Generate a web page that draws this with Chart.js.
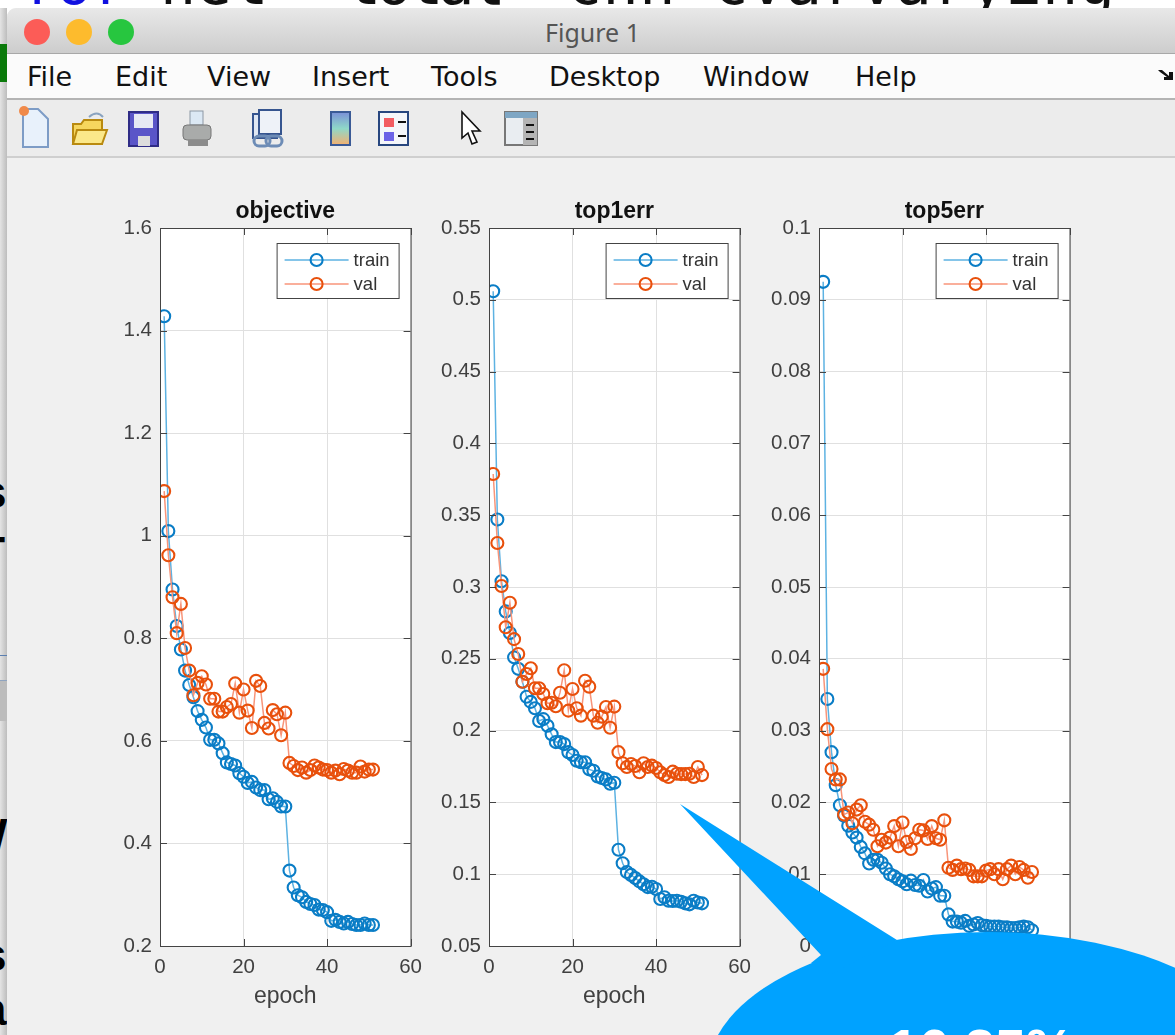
<!DOCTYPE html>
<html>
<head>
<meta charset="utf-8">
<title>Figure 1</title>
<script src="https://cdn.jsdelivr.net/npm/chart.js@4"></script>
<style>
    html, body { margin: 0; padding: 0; background: #fff; }
    #page { position: relative; width: 1175px; height: 1035px; overflow: hidden; background: #fff; }
    .abs { position: absolute; white-space: nowrap; }
    .code { font-family: "DejaVu Sans Mono", monospace; font-size: 60px; line-height: 60px; top: -47px; color: #111; }
    .frag { font-family: "Liberation Sans", sans-serif; font-weight: bold; font-size: 46px; line-height: 46px; color: #000; }
    #strip { left: 0; top: 8px; width: 7px; height: 1027px; background: linear-gradient(90deg, #e4e4e4, #bdbdbd); }
    #win { left: 7px; top: 8px; width: 1168px; height: 1027px; border-top-left-radius: 9px; overflow: hidden; background: #f0f0f0; }
    #titlebar { left: 0; top: 0; width: 1168px; height: 45px; background: linear-gradient(#e8e8e8, #cdcdcd); border-bottom: 1px solid #a8a8a8; }
    #wintitle { left: 538px; top: 9px; font-family: "Noto Sans", sans-serif; font-size: 25px; line-height: 30px; color: #555; }
    .light { width: 26px; height: 26px; top: 11px; border-radius: 50%; }
    #menubar { left: 0; top: 46px; width: 1168px; height: 44px; background: #fbfbfb; border-bottom: 2px solid #b4b4b4; }
    .menu { top: 6px; font-family: "DejaVu Sans", sans-serif; font-size: 27px; line-height: 34px; color: #111; }
    #toolbar { left: 0; top: 92px; width: 1168px; height: 56px; background: #ececec; border-bottom: 2px solid #cfcfcf; }
    canvas { position: absolute; }
    #bubble { position: absolute; left: 0; top: 0; }
    #callout { left: 888px; top: 1016px; font-family: "Liberation Sans", sans-serif; font-weight: bold; font-size: 55px; line-height: 66px; color: #fff; }
</style>
</head>
<body>
<div id="page">
    <span class="abs code" style="left:20px;color:#1010e0">for</span>
    <span class="abs code" style="left:160px">net</span>
    <span class="abs code" style="left:345px;letter-spacing:-5px">total</span>
    <span class="abs code" style="left:500px">=</span>
    <span class="abs code" style="left:566px;letter-spacing:0.5px">cnn_cvarvarying</span>

    <div class="abs" id="strip"></div>
    <div class="abs" style="left:0;top:44px;width:7px;height:38px;background:#0a7a0a"></div>
    <div class="abs" style="left:0;top:655px;width:7px;height:1px;background:#5b7fb0"></div>
    <div class="abs" style="left:0;top:680px;width:7px;height:40px;background:#bcbcbc;border-top:1px solid #8fa4c0"></div>
    <span class="abs frag" style="left:-19px;top:469px">s</span>
    <span class="abs frag" style="left:-23px;top:530px">T</span>
    <span class="abs frag" style="left:-36px;top:812px">W</span>
    <span class="abs frag" style="left:-19px;top:932px">s</span>
    <span class="abs frag" style="left:-19px;top:986px">a</span>

    <div class="abs" id="win">
        <div class="abs" id="titlebar">
            <div class="abs light" style="left:17px;background:#fc5c57"></div>
            <div class="abs light" style="left:59px;background:#fdbb2d"></div>
            <div class="abs light" style="left:101px;background:#27c63f"></div>
            <span class="abs" id="wintitle">Figure 1</span>
        </div>
        <div class="abs" id="menubar">
            <span class="abs menu" style="left:20px">File</span>
            <span class="abs menu" style="left:108px">Edit</span>
            <span class="abs menu" style="left:200px">View</span>
            <span class="abs menu" style="left:305px">Insert</span>
            <span class="abs menu" style="left:424px">Tools</span>
            <span class="abs menu" style="left:542px">Desktop</span>
            <span class="abs menu" style="left:696px">Window</span>
            <span class="abs menu" style="left:848px">Help</span>
            <svg class="abs" style="left:1150px;top:14px" width="18" height="14">
                <path d="M1 2 L5 2 L12 8 L12 4 L16 4 L16 12 L7 12 L7 9 L10 9 L3 4 Z" fill="#111"/>
            </svg>
        </div>
        <div class="abs" id="toolbar">
            <svg class="abs" style="left:0;top:0" width="560" height="56">
                <!-- new -->
                <path d="M16 9 H31 L41 19 V47 H16 Z" fill="#e8f1fb" stroke="#7d9cc6" stroke-width="2"/>
                <circle cx="17" cy="11" r="5" fill="#f08a4a"/>
                <!-- open -->
                <path d="M66 24 H74 L77 20 H95 V44 H66 Z" fill="#f6d65e" stroke="#b98a10" stroke-width="2"/>
                <path d="M66 44 L70 30 H100 L95 44 Z" fill="#fbe88a" stroke="#b98a10" stroke-width="2"/>
                <path d="M82 17 Q90 10 96 17" fill="none" stroke="#8aa3bf" stroke-width="2"/>
                <!-- save -->
                <rect x="122" y="12" width="29" height="34" fill="#5a55c8" stroke="#2f2c86" stroke-width="2"/>
                <rect x="127" y="14" width="19" height="14" fill="#e6e8f4"/>
                <rect x="131" y="36" width="12" height="10" fill="#ddd"/>
                <!-- print -->
                <rect x="183" y="11" width="13" height="14" fill="#dbe8f4" stroke="#8c97a4"/>
                <rect x="176" y="25" width="28" height="15" rx="4" fill="#a9abaa" stroke="#777"/>
                <rect x="181" y="40" width="20" height="6" fill="#8c8c8c"/>
                <!-- link -->
                <rect x="246" y="14" width="24" height="24" fill="#dfe7f3" stroke="#36558f" stroke-width="2"/>
                <rect x="252" y="10" width="22" height="24" fill="#eef2f8" stroke="#36558f" stroke-width="2"/>
                <rect x="247" y="36" width="16" height="10" rx="5" fill="none" stroke="#6d8cb6" stroke-width="3"/>
                <rect x="259" y="36" width="16" height="10" rx="5" fill="none" stroke="#6d8cb6" stroke-width="3"/>
                <!-- colorbar -->
                <defs>
                    <linearGradient id="cb" x1="0" y1="0" x2="0" y2="1">
                        <stop offset="0" stop-color="#7a8fd8"/><stop offset="0.5" stop-color="#8fd8c8"/><stop offset="1" stop-color="#f4b070"/>
                    </linearGradient>
                </defs>
                <rect x="324" y="12" width="19" height="33" fill="url(#cb)" stroke="#3a5a96" stroke-width="2"/>
                <!-- legend -->
                <rect x="372" y="12" width="29" height="33" fill="#f4f6fa" stroke="#27467f" stroke-width="2"/>
                <rect x="377" y="18" width="10" height="9" fill="#f25c62"/>
                <rect x="377" y="32" width="10" height="9" fill="#6c63e6"/>
                <rect x="391" y="21" width="8" height="2" fill="#111"/>
                <rect x="391" y="35" width="8" height="2" fill="#111"/>
                <!-- arrow -->
                <path d="M455 12 L455 38 L461 33 L465 44 L470 42 L465 31 L473 31 Z" fill="#fff" stroke="#111" stroke-width="1.6"/>
                <!-- panel -->
                <rect x="498" y="12" width="32" height="33" fill="#e9edf1" stroke="#777" stroke-width="2"/>
                <rect x="498" y="12" width="32" height="6" fill="#7ea6c4"/>
                <rect x="516" y="18" width="14" height="27" fill="#b4b4b4"/>
                <rect x="519" y="24" width="8" height="2" fill="#111"/>
                <rect x="519" y="31" width="8" height="2" fill="#111"/>
                <rect x="519" y="38" width="8" height="2" fill="#111"/>
            </svg>
        </div>
    </div>

    <canvas id="chart1" width="331" height="816" style="left:100px;top:200px"></canvas>
    <canvas id="chart2" width="331" height="816" style="left:429px;top:200px"></canvas>
    <canvas id="chart3" width="331" height="816" style="left:759px;top:200px"></canvas>

    <svg id="bubble" width="1175" height="1035">
        <ellipse cx="988" cy="1072" rx="280" ry="140" fill="#00a2ff"/>
        <polygon points="680,804 821,955 811,963 830,975 897,940" fill="#00a2ff"/>
    </svg>
    <span class="abs" id="callout">16.25%</span>
</div>

<script>
    // epochs 1..51
    const epochs = [1,2,3,4,5,6,7,8,9,10,11,12,13,14,15,16,17,18,19,20,21,22,23,24,25,26,27,28,29,30,31,32,33,34,35,36,37,38,39,40,41,42,43,44,45,46,47,48,49,50,51];

    const objectiveTrain = [1.428,1.009,0.895,0.824,0.778,0.737,0.709,0.685,0.658,0.641,0.626,0.602,0.602,0.595,0.576,0.558,0.555,0.552,0.537,0.530,0.518,0.520,0.509,0.504,0.504,0.486,0.488,0.481,0.472,0.472,0.347,0.314,0.299,0.295,0.286,0.282,0.280,0.271,0.270,0.266,0.249,0.251,0.247,0.244,0.247,0.243,0.241,0.241,0.244,0.241,0.241];
    const objectiveVal = [1.087,0.962,0.880,0.810,0.867,0.781,0.737,0.689,0.713,0.726,0.710,0.682,0.682,0.657,0.657,0.666,0.672,0.712,0.655,0.700,0.659,0.625,0.717,0.707,0.635,0.624,0.660,0.652,0.611,0.655,0.557,0.551,0.543,0.548,0.538,0.543,0.552,0.548,0.544,0.543,0.538,0.542,0.535,0.545,0.542,0.538,0.538,0.550,0.540,0.544,0.544];

    const top1Train = [0.506,0.347,0.304,0.283,0.268,0.251,0.243,0.234,0.2236,0.220,0.2156,0.2067,0.208,0.2034,0.1974,0.192,0.192,0.1906,0.185,0.183,0.179,0.178,0.178,0.173,0.172,0.168,0.167,0.166,0.163,0.1637,0.117,0.1076,0.1015,0.0995,0.0973,0.095,0.093,0.091,0.0913,0.0897,0.0827,0.084,0.0815,0.0813,0.0815,0.0808,0.0797,0.079,0.0815,0.0803,0.0797];
    const top1Val = [0.3787,0.3306,0.3007,0.272,0.289,0.2637,0.2533,0.234,0.2394,0.2434,0.2295,0.2295,0.2255,0.219,0.2194,0.217,0.2264,0.242,0.2139,0.229,0.2156,0.2104,0.2347,0.2306,0.2104,0.2055,0.2097,0.2164,0.202,0.2167,0.185,0.1773,0.1746,0.1767,0.1753,0.171,0.1773,0.1746,0.1756,0.174,0.171,0.169,0.1677,0.1714,0.170,0.1697,0.1697,0.170,0.1677,0.1747,0.169];

    const top5Train = [0.0925,0.0344,0.027,0.0224,0.0196,0.01815,0.01676,0.0158,0.0151,0.0138,0.0129,0.0115,0.012,0.012,0.0116,0.0108,0.010,0.0097,0.0093,0.009,0.0086,0.0091,0.0085,0.0084,0.0092,0.0076,0.008,0.0082,0.007,0.007,0.0044,0.0034,0.0034,0.00325,0.0035,0.0028,0.003,0.0032,0.0029,0.0028,0.0027,0.0027,0.0027,0.0026,0.0026,0.0025,0.0025,0.0026,0.0027,0.0026,0.0022];
    const top5Val = [0.0386,0.0302,0.02465,0.0232,0.0232,0.0183,0.0186,0.0171,0.019,0.0196,0.0173,0.0169,0.0162,0.0139,0.0148,0.0144,0.0151,0.0167,0.0139,0.0172,0.0145,0.0135,0.015,0.0162,0.0161,0.0149,0.0167,0.015,0.0148,0.0175,0.0109,0.0106,0.0112,0.0107,0.0108,0.0106,0.0097,0.0097,0.0097,0.0105,0.0107,0.010,0.0107,0.0093,0.0107,0.0112,0.010,0.011,0.0106,0.0095,0.0103];

    const xTicks = [0, 20, 40, 60];
    const objectiveTicks = [0.2, 0.4, 0.6, 0.8, 1, 1.2, 1.4, 1.6];
    const top1Ticks = [0.05, 0.1, 0.15, 0.2, 0.25, 0.3, 0.35, 0.4, 0.45, 0.5, 0.55];
    const top5Ticks = [0, 0.01, 0.02, 0.03, 0.04, 0.05, 0.06, 0.07, 0.08, 0.09, 0.1];

    const trainLine = "#5db2e2";
    const trainMark = "#0a7dc6";
    const valLine = "#f8957a";
    const valMark = "#e8500c";
    const tickFont = { family: "'Liberation Sans', sans-serif", size: 20.5 };

    // white plot area, box and the inward tick marks matlab draws
    const axesBox = {
        id: "axesBox",
        beforeDraw(chart) {
            const a = chart.chartArea;
            chart.ctx.fillStyle = "#fff";
            chart.ctx.fillRect(a.left, a.top, a.width, a.height);
        },
        afterDatasetsDraw(chart) {
            const a = chart.chartArea, c = chart.ctx;
            c.save();
            c.strokeStyle = "#444";
            c.lineWidth = 1;
            c.strokeRect(a.left + 0.5, a.top + 0.5, a.width, a.height);
            c.beginPath();
            chart.scales.y.ticks.forEach(t => {
                const y = Math.round(chart.scales.y.getPixelForValue(t.value)) + 0.5;
                c.moveTo(a.left, y); c.lineTo(a.left + 7, y);
                c.moveTo(a.right - 7, y); c.lineTo(a.right, y);
            });
            chart.scales.x.ticks.forEach(t => {
                const x = Math.round(chart.scales.x.getPixelForValue(t.value)) + 0.5;
                c.moveTo(x, a.top); c.lineTo(x, a.top + 7);
                c.moveTo(x, a.bottom - 7); c.lineTo(x, a.bottom);
            });
            c.stroke();
            c.restore();
        }
    };

    // legend sits inside the axes, the stock one can't do that
    const insideLegend = {
        id: "insideLegend",
        afterDraw(chart) {
            const a = chart.chartArea, c = chart.ctx;
            const w = 122, h = 55;
            const x0 = a.right - w - 12, y0 = a.top + 15;
            c.save();
            c.fillStyle = "#fff";
            c.fillRect(x0, y0, w, h);
            c.strokeStyle = "#444";
            c.lineWidth = 1;
            c.strokeRect(x0 + 0.5, y0 + 0.5, w, h);
            chart.data.datasets.forEach((ds, i) => {
                const y = y0 + 17 + i * 24;
                c.strokeStyle = ds.borderColor;
                c.lineWidth = 1.5;
                c.beginPath();
                c.moveTo(x0 + 8, y); c.lineTo(x0 + 72, y);
                c.stroke();
                c.strokeStyle = ds.pointBorderColor;
                c.lineWidth = 2.1;
                c.beginPath();
                c.arc(x0 + 40, y, 6, 0, Math.PI * 2);
                c.stroke();
                c.fillStyle = "#333";
                c.font = "18.5px 'Liberation Sans', sans-serif";
                c.textBaseline = "middle";
                c.fillText(ds.label, x0 + 77, y + 1);
            });
            c.restore();
        }
    };

    function toPoints(values) {
        return epochs.map((e, i) => ({ x: e, y: values[i] }));
    }

    function makePanel(id, title, train, val, yTicks) {
        new Chart(document.getElementById(id), {
            type: "line",
            data: {
                datasets: [
                    { label: "train", data: toPoints(train), order: 1, borderColor: trainLine, pointBorderColor: trainMark },
                    { label: "val", data: toPoints(val), order: 0, borderColor: valLine, pointBorderColor: valMark }
                ]
            },
            options: {
                responsive: false,
                animation: false,
                layout: { padding: 0 },
                elements: {
                    line: { borderWidth: 1.5, tension: 0 },
                    point: { radius: 6, borderWidth: 2.1, backgroundColor: "transparent", pointStyle: "circle" }
                },
                plugins: {
                    legend: { display: false },
                    tooltip: { enabled: false },
                    title: {
                        display: true,
                        fullSize: false,
                        text: title,
                        color: "#111",
                        font: { family: "'Liberation Sans', sans-serif", size: 23, weight: "bold", lineHeight: 1 },
                        padding: { top: 0, bottom: 5 }
                    }
                },
                scales: {
                    x: {
                        type: "linear",
                        min: 0,
                        max: 60,
                        afterBuildTicks: s => { s.ticks = xTicks.map(v => ({ value: v })); },
                        afterFit: s => { s.height = 70; },
                        grid: { color: "#e0e0e0", drawTicks: false },
                        border: { display: false },
                        ticks: { font: tickFont, color: "#404040", padding: 9, maxRotation: 0, callback: v => String(v) },
                        title: { display: true, text: "epoch", color: "#404040", font: { family: "'Liberation Sans', sans-serif", size: 23 }, padding: { top: 4, bottom: 6 } }
                    },
                    y: {
                        type: "linear",
                        min: yTicks[0],
                        max: yTicks[yTicks.length - 1],
                        afterBuildTicks: s => { s.ticks = yTicks.map(v => ({ value: v })); },
                        afterFit: s => { s.width = 60; },
                        grid: { color: "#e0e0e0", drawTicks: false },
                        border: { display: false },
                        ticks: { font: tickFont, color: "#404040", padding: 8, callback: v => String(v) }
                    }
                }
            },
            plugins: [axesBox, insideLegend]
        });
    }

    makePanel("chart1", "objective", objectiveTrain, objectiveVal, objectiveTicks);
    makePanel("chart2", "top1err", top1Train, top1Val, top1Ticks);
    makePanel("chart3", "top5err", top5Train, top5Val, top5Ticks);
</script>
</body>
</html>
